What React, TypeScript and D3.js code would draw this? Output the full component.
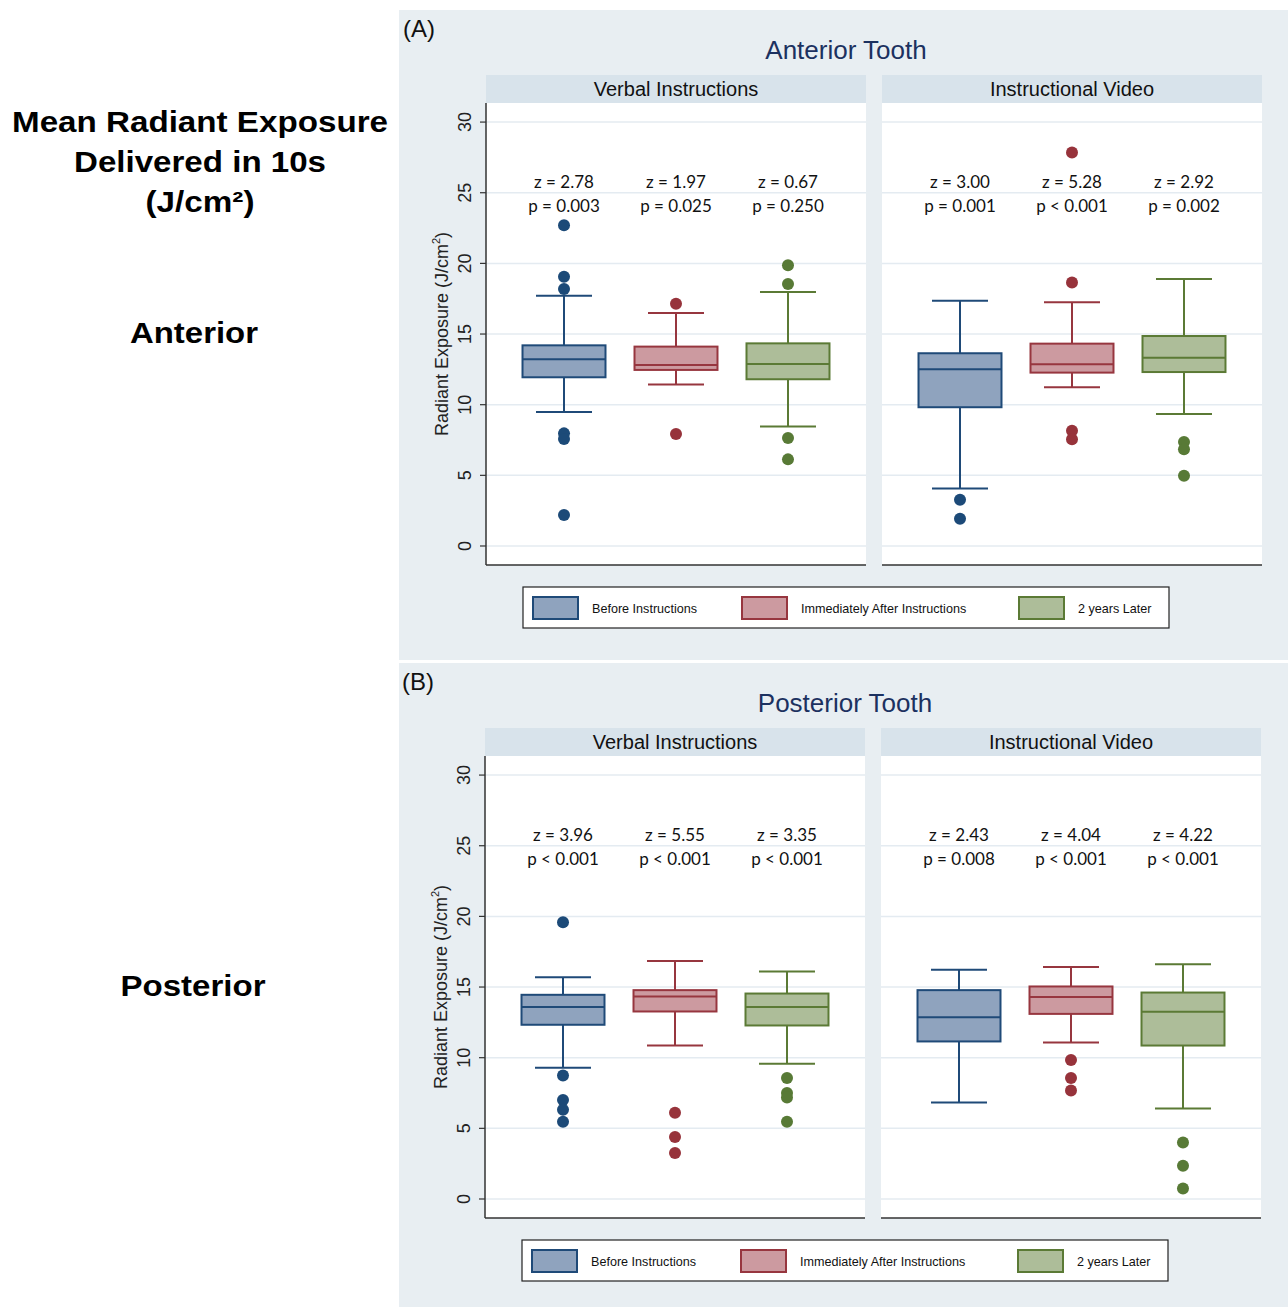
import React from "react"
import * as d3 from "d3"

const groups = ["Before Instructions", "Immediately After Instructions", "2 years Later"]
const facets = ["Verbal Instructions", "Instructional Video"]
const yTicks = [0, 5, 10, 15, 20, 25, 30]

// each box: [lower whisker, q1, median, q3, upper whisker]
const anteriorVerbalBoxes = [
  [9.48, 11.94, 13.21, 14.2, 17.71],
  [11.42, 12.46, 12.81, 14.11, 16.49],
  [8.45, 11.8, 12.88, 14.34, 17.98],
]
const anteriorVerbalOutliers = [
  [22.7, 19.06, 18.19, 7.97, 7.57, 2.19],
  [17.15, 7.93],
  [19.86, 18.54, 7.64, 6.13],
]
const anteriorVideoBoxes = [
  [4.06, 9.82, 12.51, 13.64, 17.36],
  [11.23, 12.27, 12.86, 14.32, 17.25],
  [9.34, 12.31, 13.33, 14.86, 18.9],
]
const anteriorVideoOutliers = [
  [3.28, 1.93],
  [27.84, 18.64, 8.16, 7.55],
  [7.36, 6.84, 4.97],
]
const posteriorVerbalBoxes = [
  [9.29, 12.33, 13.58, 14.45, 15.7],
  [10.86, 13.27, 14.33, 14.78, 16.85],
  [9.57, 12.28, 13.58, 14.54, 16.1],
]
const posteriorVerbalOutliers = [
  [19.59, 8.74, 7.0, 6.32, 5.47],
  [6.1, 4.38, 3.25],
  [8.56, 7.5, 7.19, 5.47],
]
const posteriorVideoBoxes = [
  [6.83, 11.15, 12.87, 14.78, 16.22],
  [11.07, 13.1, 14.29, 15.04, 16.41],
  [6.41, 10.86, 13.25, 14.61, 16.62],
]
const posteriorVideoOutliers = [
  [],
  [9.83, 8.56, 7.68],
  [4.0, 2.35, 0.75],
]

const anteriorVerbalZ = ["z = 2.78", "z = 1.97", "z = 0.67"]
const anteriorVerbalP = ["p = 0.003", "p = 0.025", "p = 0.250"]
const anteriorVideoZ = ["z = 3.00", "z = 5.28", "z = 2.92"]
const anteriorVideoP = ["p = 0.001", "p < 0.001", "p = 0.002"]
const posteriorVerbalZ = ["z = 3.96", "z = 5.55", "z = 3.35"]
const posteriorVerbalP = ["p < 0.001", "p < 0.001", "p < 0.001"]
const posteriorVideoZ = ["z = 2.43", "z = 4.04", "z = 4.22"]
const posteriorVideoP = ["p = 0.008", "p < 0.001", "p < 0.001"]

const strokeColors = ["#1f4a78", "#97363f", "#5b7a35"]
const fillColors = ["#8fa3be", "#cc9aa0", "#adbd99"]
const dotColors = ["#1c4a78", "#97333b", "#587a36"]

const sans = "'Liberation Sans', Arial, Helvetica, sans-serif"
const annoFont = "Lato, 'Open Sans', sans-serif"

const Facet = ({ x0, name, boxes, outliers, zs, ps, y, showAxis }) => {
  const x = d3.scaleBand().domain(groups).range([x0, x0 + 380])
    .paddingInner(0.259).paddingOuter(0.326)
  const bw = x.bandwidth()
  const capW = 56
  return (
    <g>
      <rect x={x0} y={75} width={380} height={28} fill="#d8e3eb" />
      <text x={x0 + 190} y={96} textAnchor="middle" fontFamily={sans} fontSize={20} fill="#111">{name}</text>
      <rect x={x0} y={103} width={380} height={462} fill="#ffffff" />
      {yTicks.map(t => (
        <line key={t} x1={x0} x2={x0 + 380} y1={y(t)} y2={y(t)} stroke="#e4ebf1" strokeWidth={1.5} />
      ))}
      {zs.map((z, i) => (
        <g key={"a" + i}>
          <text x={x(groups[i]) + bw / 2} y={y(25.3)} textAnchor="middle" fontFamily={annoFont} fontSize={17} fill="#111">{z}</text>
          <text x={x(groups[i]) + bw / 2} y={y(23.65)} textAnchor="middle" fontFamily={annoFont} fontSize={17} fill="#111">{ps[i]}</text>
        </g>
      ))}
      {boxes.map((b, i) => {
        const cx = x(groups[i]) + bw / 2
        const [lo, q1, med, q3, hi] = b
        return (
          <g key={"b" + i} stroke={strokeColors[i]} strokeWidth={2}>
            <line x1={cx} x2={cx} y1={y(hi)} y2={y(q3)} />
            <line x1={cx} x2={cx} y1={y(q1)} y2={y(lo)} />
            <line x1={cx - capW / 2} x2={cx + capW / 2} y1={y(hi)} y2={y(hi)} />
            <line x1={cx - capW / 2} x2={cx + capW / 2} y1={y(lo)} y2={y(lo)} />
            <rect x={x(groups[i])} y={y(q3)} width={bw} height={y(q1) - y(q3)} fill={fillColors[i]} />
            <line x1={x(groups[i])} x2={x(groups[i]) + bw} y1={y(med)} y2={y(med)} />
            {outliers[i].map((v, j) => (
              <circle key={j} cx={cx} cy={y(v)} r={6} fill={dotColors[i]} stroke="none" />
            ))}
          </g>
        )
      })}
      <line x1={x0} x2={x0 + 380} y1={565} y2={565} stroke="#333" strokeWidth={1.5} />
      {showAxis && (
        <g>
          <line x1={x0} x2={x0} y1={103} y2={565} stroke="#333" strokeWidth={1.5} />
          {yTicks.map(t => (
            <g key={t}>
              <line x1={x0 - 6} x2={x0} y1={y(t)} y2={y(t)} stroke="#333" strokeWidth={1.2} />
              <text transform={`translate(${x0 - 15},${y(t)}) rotate(-90)`} textAnchor="middle"
                fontFamily={sans} fontSize={18} fill="#222">{t}</text>
            </g>
          ))}
          <text transform={`translate(${x0 - 38},334) rotate(-90)`} textAnchor="middle"
            fontFamily={sans} fontSize={18} fill="#222">
            Radiant Exposure (J/cm<tspan fontSize={11} dy={-8}>2</tspan><tspan dy={8}>)</tspan>
          </text>
        </g>
      )}
    </g>
  )
}

const Legend = () => {
  const swX = [10, 219, 496]
  return (
    <g transform="translate(523,587)">
      <rect x={0} y={0} width={646} height={41} fill="#fff" stroke="#222" strokeWidth={1.2} />
      {groups.map((g, i) => (
        <g key={g}>
          <rect x={swX[i]} y={10} width={45} height={22} fill={fillColors[i]} stroke={strokeColors[i]} strokeWidth={2} />
          <text x={swX[i] + 59} y={26} fontFamily={sans} fontSize={12.6} fill="#111">{g}</text>
        </g>
      ))}
    </g>
  )
}

const Panel = ({ dx, dy, letter, title, data }) => {
  const y = d3.scaleLinear().domain([-1.345, 31.35]).range([565, 103])
  const facetX = [486, 882]
  return (
    <g transform={`translate(${dx},${dy})`}>
      <text x={403} y={37} fontFamily={sans} fontSize={24} fill="#111">{letter}</text>
      <text x={846} y={59} textAnchor="middle" fontFamily={sans} fontSize={26} fill="#1c3160">{title}</text>
      {facets.map((f, i) => (
        <Facet key={f} x0={facetX[i]} name={f} y={y} showAxis={i === 0}
          boxes={data[i].boxes} outliers={data[i].outliers} zs={data[i].zs} ps={data[i].ps} />
      ))}
      <Legend />
    </g>
  )
}

export default function App() {
  const anterior = [
    { boxes: anteriorVerbalBoxes, outliers: anteriorVerbalOutliers, zs: anteriorVerbalZ, ps: anteriorVerbalP },
    { boxes: anteriorVideoBoxes, outliers: anteriorVideoOutliers, zs: anteriorVideoZ, ps: anteriorVideoP },
  ]
  const posterior = [
    { boxes: posteriorVerbalBoxes, outliers: posteriorVerbalOutliers, zs: posteriorVerbalZ, ps: posteriorVerbalP },
    { boxes: posteriorVideoBoxes, outliers: posteriorVideoOutliers, zs: posteriorVideoZ, ps: posteriorVideoP },
  ]
  const bold = { fontFamily: sans, fontWeight: 700, fill: "#000" }
  return (
    <svg width={1288} height={1307} style={{ position: "absolute", left: 0, top: 0, background: "#fff" }}>
      <rect x={399} y={10} width={889} height={650} fill="#e8eef2" />
      <rect x={399} y={663} width={889} height={644} fill="#e8eef2" />
      <text x={200} y={132} textAnchor="middle" fontSize={29} textLength={376} lengthAdjust="spacingAndGlyphs" {...bold}>Mean Radiant Exposure</text>
      <text x={200} y={172} textAnchor="middle" fontSize={29} textLength={252} lengthAdjust="spacingAndGlyphs" {...bold}>Delivered in 10s</text>
      <text x={200} y={212} textAnchor="middle" fontSize={29} textLength={109} lengthAdjust="spacingAndGlyphs" {...bold}>(J/cm²)</text>
      <text x={194} y={343} textAnchor="middle" fontSize={29} textLength={128} lengthAdjust="spacingAndGlyphs" {...bold}>Anterior</text>
      <text x={193} y={996} textAnchor="middle" fontSize={29} textLength={145} lengthAdjust="spacingAndGlyphs" {...bold}>Posterior</text>
      <Panel dx={0} dy={0} letter="(A)" title="Anterior Tooth" data={anterior} />
      <Panel dx={-1} dy={653} letter="(B)" title="Posterior Tooth" data={posterior} />
    </svg>
  )
}
